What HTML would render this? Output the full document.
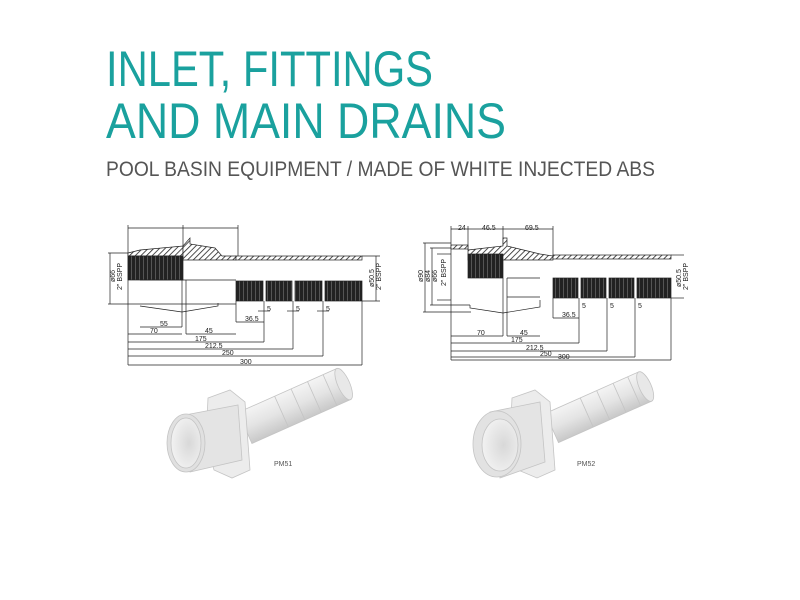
<!DOCTYPE html>
<html><head><meta charset="utf-8"><style>
body{margin:0;background:#fff;width:800px;height:600px;overflow:hidden}
svg{display:block}
.t{font-family:"Liberation Sans",sans-serif}
</style></head><body>
<svg width="800" height="600" viewBox="0 0 800 600" xmlns="http://www.w3.org/2000/svg">
<defs>
<pattern id="h" width="4" height="4" patternUnits="userSpaceOnUse" patternTransform="rotate(45)"><rect width="4" height="4" fill="#fff"/><line x1="0" y1="0" x2="0" y2="4" stroke="#222" stroke-width="1.6"/></pattern>
<pattern id="r" width="4" height="10" patternUnits="userSpaceOnUse"><rect width="4" height="10" fill="#222"/><line x1="3.5" y1="0" x2="3.5" y2="10" stroke="#777" stroke-width="0.6"/></pattern>
<linearGradient id="pg" x1="0" y1="0" x2="0" y2="1"><stop offset="0" stop-color="#f4f4f4"/><stop offset="0.5" stop-color="#e4e4e4"/><stop offset="1" stop-color="#c8c8c8"/></linearGradient>
<radialGradient id="in" cx="0.6" cy="0.5" r="0.6"><stop offset="0" stop-color="#d8d8d8"/><stop offset="1" stop-color="#f2f2f2"/></radialGradient>
</defs>
<g class="t" fill="#1aa19e">
<text x="106" y="86" font-size="50" textLength="327" lengthAdjust="spacingAndGlyphs">INLET, FITTINGS</text>
<text x="106" y="138" font-size="50" textLength="400" lengthAdjust="spacingAndGlyphs">AND MAIN DRAINS</text>
</g>
<text class="t" x="106" y="176" font-size="21" fill="#555" textLength="549" lengthAdjust="spacingAndGlyphs">POOL BASIN EQUIPMENT / MADE OF WHITE INJECTED ABS</text>

<!-- Left drawing -->
<g stroke="#222" stroke-width="0.7" fill="none">
<line x1="128" y1="228" x2="238" y2="228"/><line x1="128" y1="225" x2="128" y2="365"/><line x1="238" y1="225" x2="238" y2="256"/><line x1="183" y1="225" x2="183" y2="250"/>
<polygon points="128,253 140,250 183,246 183,256 128,256" fill="url(#h)"/>
<polygon points="183,246 190,238 190,244 215,248 222,256 236,256 236,260 183,260" fill="url(#h)"/>
<rect x="236" y="256" width="126" height="4" fill="url(#h)"/>
<rect x="128" y="256" width="55" height="24" fill="url(#r)"/>
<rect x="236" y="281" width="27" height="20" fill="url(#r)"/><rect x="266" y="281" width="26" height="20" fill="url(#r)"/><rect x="295" y="281" width="27" height="20" fill="url(#r)"/><rect x="325" y="281" width="37" height="20" fill="url(#r)"/>
<line x1="108" y1="253" x2="128" y2="253"/><line x1="108" y1="304" x2="236" y2="304"/><line x1="110" y1="253" x2="110" y2="304"/>
<line x1="140" y1="280" x2="236" y2="280"/>
<polyline points="140,306 182,312 218,306 218,303"/><line x1="182" y1="280" x2="182" y2="327"/><line x1="186" y1="280" x2="186" y2="334"/>
<line x1="362" y1="256" x2="380" y2="256"/><line x1="362" y1="301" x2="380" y2="301"/><line x1="376" y1="256" x2="376" y2="301"/>
<line x1="140" y1="327" x2="182" y2="327"/><line x1="128" y1="334" x2="182" y2="334"/><line x1="186" y1="334" x2="236" y2="334"/><line x1="236" y1="301" x2="236" y2="322"/><line x1="236" y1="322" x2="264" y2="322"/>
<line x1="128" y1="342" x2="264" y2="342"/><line x1="264" y1="301" x2="264" y2="342"/>
<line x1="128" y1="349" x2="293" y2="349"/><line x1="293" y1="301" x2="293" y2="349"/>
<line x1="128" y1="356" x2="323" y2="356"/><line x1="323" y1="301" x2="323" y2="356"/>
<line x1="128" y1="365" x2="362" y2="365"/><line x1="362" y1="301" x2="362" y2="365"/>
<line x1="258" y1="311" x2="270" y2="311"/><line x1="287" y1="311" x2="299" y2="311"/><line x1="317" y1="311" x2="329" y2="311"/>
</g>
<g class="t" font-size="7" fill="#222">
<text x="160" y="326">55</text><text x="150" y="333">70</text><text x="205" y="333">45</text><text x="245" y="321">36.5</text>
<text x="195" y="341">175</text><text x="205" y="348">212.5</text><text x="222" y="355">250</text><text x="240" y="364">300</text>
<text x="267" y="311">5</text><text x="296" y="311">5</text><text x="326" y="311">5</text>
<text transform="translate(115,282) rotate(-90)">ø66</text><text transform="translate(122,290) rotate(-90)">2" BSPP</text>
<text transform="translate(374,287) rotate(-90)">ø50.5</text><text transform="translate(381,290) rotate(-90)">2" BSPP</text>
</g>

<!-- Right drawing -->
<g stroke="#222" stroke-width="0.7" fill="none">
<line x1="451" y1="229" x2="553" y2="229"/><line x1="451" y1="226" x2="451" y2="360"/><line x1="468" y1="226" x2="468" y2="250"/><line x1="503" y1="226" x2="503" y2="248"/><line x1="553" y1="226" x2="553" y2="256"/>
<rect x="451" y="245" width="17" height="4" fill="url(#h)"/>
<polygon points="468,250 503,246 503,238 507,238 507,246 540,254 553,256 553,260 468,260" fill="url(#h)"/>
<rect x="553" y="255" width="118" height="4" fill="url(#h)"/>
<rect x="468" y="254" width="35" height="24" fill="url(#r)"/>
<rect x="553" y="278" width="25" height="20" fill="url(#r)"/><rect x="581" y="278" width="25" height="20" fill="url(#r)"/><rect x="609" y="278" width="25" height="20" fill="url(#r)"/><rect x="637" y="278" width="34" height="20" fill="url(#r)"/>
<line x1="423" y1="243" x2="451" y2="243"/><line x1="423" y1="312" x2="471" y2="312"/><line x1="425" y1="243" x2="425" y2="312"/>
<line x1="430" y1="248" x2="451" y2="248"/><line x1="430" y1="305" x2="470" y2="305"/><line x1="432" y1="248" x2="432" y2="305"/>
<line x1="437" y1="254" x2="451" y2="254"/><line x1="437" y1="300" x2="451" y2="300"/>
<polyline points="470,305 470,308 503,313 540,307 540,300"/><line x1="503" y1="278" x2="503" y2="336"/><line x1="507" y1="278" x2="507" y2="336"/>
<line x1="507" y1="278" x2="540" y2="278"/><line x1="507" y1="297" x2="540" y2="297"/>
<line x1="671" y1="255" x2="684" y2="255"/><line x1="671" y1="298" x2="684" y2="298"/>
<line x1="451" y1="336" x2="503" y2="336"/><line x1="507" y1="336" x2="540" y2="336"/><line x1="553" y1="298" x2="553" y2="318"/><line x1="553" y1="318" x2="579" y2="318"/>
<line x1="451" y1="343" x2="579" y2="343"/><line x1="579" y1="298" x2="579" y2="343"/>
<line x1="451" y1="351" x2="607" y2="351"/><line x1="607" y1="298" x2="607" y2="351"/>
<line x1="451" y1="357" x2="635" y2="357"/><line x1="635" y1="298" x2="635" y2="357"/>
<line x1="451" y1="360" x2="671" y2="360"/><line x1="671" y1="298" x2="671" y2="360"/>
</g>
<g class="t" font-size="7" fill="#222">
<text x="458" y="230">24</text><text x="482" y="230">46.5</text><text x="525" y="230">69.5</text>
<text x="477" y="335">70</text><text x="520" y="335">45</text><text x="562" y="317">36.5</text>
<text x="511" y="342">175</text><text x="526" y="350">212.5</text><text x="540" y="356">250</text><text x="558" y="359">300</text>
<text x="582" y="308">5</text><text x="610" y="308">5</text><text x="638" y="308">5</text>
<text transform="translate(423,282) rotate(-90)">ø90</text><text transform="translate(430,282) rotate(-90)">ø84</text><text transform="translate(437,282) rotate(-90)">ø66</text><text transform="translate(446,286) rotate(-90)">2" BSPP</text>
<text transform="translate(681,287) rotate(-90)">ø50.5</text><text transform="translate(688,290) rotate(-90)">2" BSPP</text>
</g>

<!-- Product PM51 -->
<g stroke="#c4c4c4" stroke-width="0.8">
<g transform="translate(245,428) rotate(-24)">
<rect x="0" y="-17" width="108" height="34" fill="url(#pg)"/>
<line x1="40" y1="-17" x2="40" y2="17"/><line x1="58" y1="-17" x2="58" y2="17"/><line x1="76" y1="-17" x2="76" y2="17"/><line x1="93" y1="-17" x2="93" y2="17"/>
<ellipse cx="108" cy="0" rx="6" ry="17" fill="#e8e8e8"/>
</g>
<polygon points="208,398 230,390 245,402 250,470 232,478 214,470 206,440" fill="#ececec"/>
<polygon points="185,415 238,405 242,460 190,472" fill="#e4e4e4"/>
<ellipse cx="186" cy="443" rx="19" ry="29" fill="#e0e0e0"/>
<ellipse cx="186" cy="443" rx="15" ry="25" fill="url(#in)"/>
</g>
<text class="t" x="274" y="466" font-size="7" fill="#555">PM51</text>
<!-- Product PM52 -->
<g stroke="#c4c4c4" stroke-width="0.8">
<g transform="translate(552,428) rotate(-24)">
<rect x="0" y="-16" width="102" height="32" fill="url(#pg)"/>
<line x1="38" y1="-16" x2="38" y2="16"/><line x1="56" y1="-16" x2="56" y2="16"/><line x1="74" y1="-16" x2="74" y2="16"/><line x1="90" y1="-16" x2="90" y2="16"/>
<ellipse cx="102" cy="0" rx="6" ry="16" fill="#e8e8e8"/>
</g>
<polygon points="512,398 535,390 550,402 555,470 537,478 518,470 510,440" fill="#ececec"/>
<polygon points="490,412 540,402 545,462 500,478" fill="#e4e4e4"/>
<ellipse cx="497" cy="444" rx="24" ry="33" fill="#e2e2e2"/>
<ellipse cx="500" cy="445" rx="18" ry="26" fill="url(#in)"/>
</g>
<text class="t" x="577" y="466" font-size="7" fill="#555">PM52</text>
</svg>
</body></html>
